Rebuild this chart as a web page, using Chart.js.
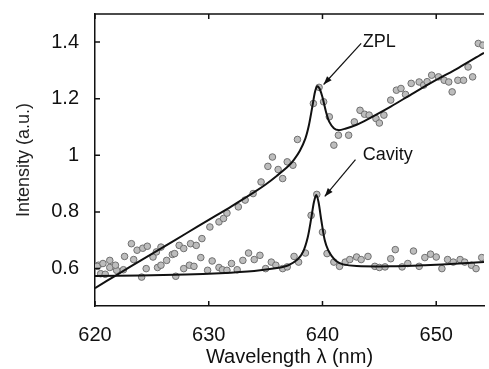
<!DOCTYPE html>
<html>
<head>
<meta charset="utf-8">
<script src="https://cdn.jsdelivr.net/npm/chart.js@4/dist/chart.umd.min.js"></script>
<style>
  html, body { margin: 0; padding: 0; background: #fff; }
  #wrap { width: 489px; height: 369px; }
</style>
</head>
<body>
<div id="wrap"><canvas id="c" width="489" height="369"></canvas></div>
<script>
// ---- data ----
const xTicks = [620, 630, 640, 650];
const yTicks = [0.6, 0.8, 1, 1.2, 1.4];

// ZPL measured points
const zplWl  = [620.2, 620.7, 621.3, 621.8, 622.6, 623.2, 623.4, 623.7, 624.2, 624.6, 625.1, 625.4, 625.8, 627.0, 627.4,
                627.8, 628.4, 628.9, 629.4, 630.1, 630.9, 631.3, 631.6, 632.6, 633.2, 633.9, 634.6, 635.2, 635.6, 636.1,
                636.5, 636.9, 637.4, 637.8, 639.2, 639.7, 640.1, 640.6, 641.0, 641.4, 642.3, 642.8, 643.3, 643.7, 644.1,
                644.7, 645.0, 645.4, 646.0, 646.5, 646.9, 647.3, 647.8, 648.5, 648.9, 649.2, 649.6, 650.2, 650.7, 651.1,
                651.4, 651.9, 652.4, 652.8, 653.2, 653.7, 654.1];
const zplInt = [0.608, 0.618, 0.629, 0.612, 0.643, 0.688, 0.632, 0.665, 0.672, 0.679, 0.641, 0.659, 0.676, 0.653, 0.682,
                0.671, 0.688, 0.682, 0.706, 0.747, 0.765, 0.777, 0.796, 0.818, 0.842, 0.865, 0.906, 0.961, 0.994, 0.950,
                0.918, 0.977, 0.965, 1.056, 1.183, 1.240, 1.189, 1.136, 1.036, 1.071, 1.071, 1.118, 1.159, 1.145, 1.142,
                1.130, 1.114, 1.142, 1.195, 1.230, 1.236, 1.215, 1.254, 1.259, 1.248, 1.260, 1.283, 1.277, 1.265, 1.259,
                1.224, 1.265, 1.265, 1.312, 1.277, 1.395, 1.389];

// Cavity measured points
const cavWl  = [620.3, 620.5, 620.9, 621.3, 621.9, 622.5, 624.1, 624.5, 625.5, 625.8, 626.3, 626.8, 627.1, 627.8, 628.3,
                628.7, 629.3, 629.9, 630.3, 630.9, 631.2, 631.6, 632.0, 632.5, 633.0, 633.5, 634.0, 634.5, 635.0, 635.5,
                635.9, 636.5, 636.9, 637.5, 637.9, 638.5, 639.0, 639.5, 640.0, 640.4, 641.0, 641.5, 642.0, 642.4, 643.0,
                643.4, 644.0, 644.6, 645.0, 645.5, 646.0, 646.4, 647.0, 647.5, 648.0, 648.5, 649.0, 649.5, 650.0, 650.5,
                651.0, 651.5, 652.1, 652.5, 653.1, 653.5, 654.0];
const cavInt = [0.612, 0.582, 0.580, 0.604, 0.594, 0.596, 0.570, 0.600, 0.604, 0.612, 0.629, 0.650, 0.573, 0.600, 0.612,
                0.608, 0.639, 0.594, 0.627, 0.604, 0.596, 0.594, 0.618, 0.596, 0.629, 0.655, 0.632, 0.647, 0.600, 0.623,
                0.612, 0.600, 0.606, 0.643, 0.623, 0.655, 0.788, 0.862, 0.729, 0.653, 0.623, 0.608, 0.623, 0.632, 0.641,
                0.632, 0.643, 0.608, 0.604, 0.606, 0.635, 0.667, 0.606, 0.618, 0.662, 0.608, 0.639, 0.651, 0.641, 0.600,
                0.632, 0.623, 0.632, 0.623, 0.612, 0.600, 0.639];

// fitted curves (traced)
const zplFitWl  = [620, 622, 624, 626, 628, 630, 632, 634, 635, 636, 637, 637.5, 638, 638.5, 638.8, 639.1, 639.35, 639.55,
                   639.75, 640.0, 640.3, 640.6, 641.0, 641.4, 642, 643, 644, 646, 648, 650, 652, 654.2];
const zplFitInt = [0.531, 0.580, 0.628, 0.676, 0.724, 0.772, 0.820, 0.870, 0.897, 0.928, 0.962, 0.985, 1.015, 1.060, 1.105,
                   1.170, 1.225, 1.244, 1.235, 1.205, 1.155, 1.118, 1.096, 1.089, 1.094, 1.108, 1.128, 1.172, 1.220, 1.266,
                   1.310, 1.362];
const cavFitWl  = [620, 624, 628, 631, 634, 636, 637, 637.8, 638.3, 638.7, 639.0, 639.25, 639.45, 639.65, 639.9, 640.2,
                   640.5, 640.8, 641.2, 641.8, 643, 646, 649, 652, 654.2];
const cavFitInt = [0.574, 0.576, 0.579, 0.584, 0.592, 0.602, 0.612, 0.632, 0.660, 0.710, 0.775, 0.835, 0.860, 0.835, 0.770,
                   0.700, 0.665, 0.645, 0.627, 0.615, 0.609, 0.608, 0.612, 0.618, 0.623];

// callouts: [text, textX, textY, arrow tail x, y, arrow head x, y]
const callouts = [
  ['ZPL',    643.55, 1.40, 643.4, 1.395, 640.1, 1.25],
  ['Cavity', 643.55, 1.00, 642.9, 0.985, 640.2, 0.855]
];

const toXY = (xs, ys) => xs.map((x, i) => ({ x, y: ys[i] }));
const FONT = '"Liberation Sans", Arial, sans-serif';

// frame + inward ticks + callouts
const decor = {
  id: 'decor',
  afterDraw(chart) {
    const { ctx, chartArea: a, scales: { x, y } } = chart;
    ctx.save();
    ctx.strokeStyle = '#111';
    ctx.lineWidth = 1.5;
    ctx.beginPath();
    ctx.moveTo(a.left, a.top); ctx.lineTo(a.right, a.top);
    for (const v of xTicks) {
      const px = x.getPixelForValue(v);
      ctx.moveTo(px, a.bottom); ctx.lineTo(px, a.bottom - 5);
      ctx.moveTo(px, a.top); ctx.lineTo(px, a.top + 5);
    }
    for (const v of yTicks) {
      const py = y.getPixelForValue(v);
      ctx.moveTo(a.left, py); ctx.lineTo(a.left + 5, py);
    }
    ctx.stroke();

    ctx.fillStyle = '#111';
    ctx.font = '18px ' + FONT;
    ctx.textBaseline = 'middle';
    ctx.lineWidth = 1.2;
    for (const [txt, tx, ty, x0, y0, x1, y1] of callouts) {
      ctx.fillText(txt, x.getPixelForValue(tx), y.getPixelForValue(ty));
      const ax = x.getPixelForValue(x0), ay = y.getPixelForValue(y0);
      const bx = x.getPixelForValue(x1), by = y.getPixelForValue(y1);
      ctx.beginPath(); ctx.moveTo(ax, ay); ctx.lineTo(bx, by); ctx.stroke();
      const ang = Math.atan2(by - ay, bx - ax);
      ctx.beginPath();
      ctx.moveTo(bx, by);
      ctx.lineTo(bx - 9 * Math.cos(ang - 0.35), by - 9 * Math.sin(ang - 0.35));
      ctx.lineTo(bx - 9 * Math.cos(ang + 0.35), by - 9 * Math.sin(ang + 0.35));
      ctx.closePath(); ctx.fill();
    }
    ctx.restore();
  }
};

const pointStyle = {
  showLine: false, pointRadius: 3.3, pointBorderWidth: 1,
  pointBackgroundColor: '#bdbdbd', pointBorderColor: '#707070', order: 1
};
const lineStyle = {
  showLine: true, pointRadius: 0, borderColor: '#111', borderWidth: 2, tension: 0.3, order: 0
};

new Chart(document.getElementById('c'), {
  type: 'scatter',
  data: {
    datasets: [
      { label: 'ZPL data',    data: toXY(zplWl, zplInt), ...pointStyle },
      { label: 'Cavity data', data: toXY(cavWl, cavInt), ...pointStyle },
      { label: 'ZPL fit',     data: toXY(zplFitWl, zplFitInt), ...lineStyle },
      { label: 'Cavity fit',  data: toXY(cavFitWl, cavFitInt), ...lineStyle }
    ]
  },
  options: {
    responsive: false,
    animation: false,
    layout: { padding: { top: 14, right: 0, left: 0, bottom: 0 } },
    plugins: { legend: { display: false }, tooltip: { enabled: false } },
    scales: {
      x: {
        type: 'linear', min: 620, max: 654.2,
        afterBuildTicks: (s) => { s.ticks = xTicks.map(value => ({ value })); },
        afterFit: (s) => { s.height = 63; s.paddingLeft = 0; s.paddingRight = 0; },
        grid: { display: false },
        border: { display: true, color: '#111', width: 1.5 },
        ticks: { color: '#111', padding: 9, maxRotation: 0, font: { family: FONT, size: 20 } },
        title: { display: true, text: 'Wavelength λ (nm)', color: '#111', padding: { top: 8, bottom: 0 },
                 font: { family: FONT, size: 20 } }
      },
      y: {
        type: 'linear', min: 0.468, max: 1.499,
        afterBuildTicks: (s) => { s.ticks = yTicks.map(value => ({ value })); },
        afterFit: (s) => { s.width = 95; s.paddingTop = 0; s.paddingBottom = 0; },
        grid: { display: false },
        border: { display: true, color: '#111', width: 1.5 },
        ticks: { color: '#111', padding: 8, callback: (v) => String(v), font: { family: FONT, size: 20 } },
        title: { display: true, text: 'Intensity (a.u.)', color: '#222', padding: { top: 13, bottom: 0 },
                 font: { family: FONT, size: 18 } }
      }
    }
  },
  plugins: [decor]
});
</script>
</body>
</html>
